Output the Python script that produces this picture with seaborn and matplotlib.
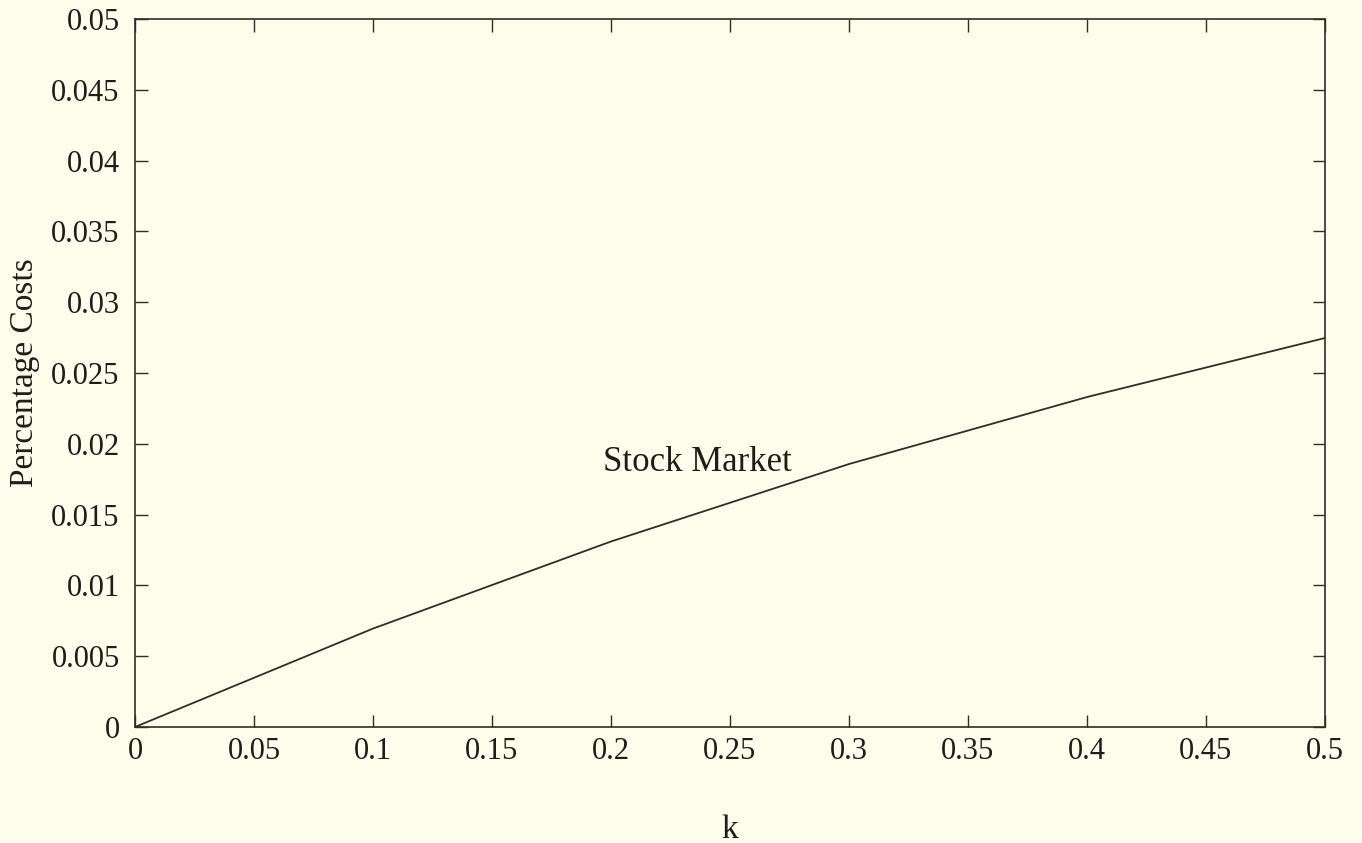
import matplotlib
matplotlib.use("Agg")
import matplotlib.pyplot as plt
import seaborn as sns
import pandas as pd

# Percentage trading costs as a function of k
k_values = [0.0, 0.1, 0.2, 0.3, 0.4, 0.5]
cost_values = [0.0, 0.00695, 0.0131, 0.01857, 0.0233, 0.02747]
series_label = "Stock Market"
x_ticks = [0, 0.05, 0.1, 0.15, 0.2, 0.25, 0.3, 0.35, 0.4, 0.45, 0.5]
x_tick_labels = ["0", "0.05", "0.1", "0.15", "0.2", "0.25", "0.3", "0.35", "0.4", "0.45", "0.5"]
y_ticks = [0, 0.005, 0.01, 0.015, 0.02, 0.025, 0.03, 0.035, 0.04, 0.045, 0.05]
y_tick_labels = ["0", "0.005", "0.01", "0.015", "0.02", "0.025", "0.03", "0.035", "0.04", "0.045", "0.05"]

sns.set_style("ticks")
plt.rcParams["font.family"] = ["Liberation Serif", "DejaVu Serif"]

bg = "#fdfdeb"
ink = "#2e2e26"
text_ink = "#1e1e18"

df = pd.DataFrame({"k": k_values, "cost": cost_values})

fig = plt.figure(figsize=(13.62, 8.43), dpi=100, facecolor=bg)
ax = fig.add_axes([0.0991, 0.1376, 0.8737, 0.8399])
ax.set_facecolor(bg)

sns.lineplot(data=df, x="k", y="cost", ax=ax, color=ink, linewidth=1.3)

ax.set_xlim(0, 0.5)
ax.set_ylim(0, 0.05)
ax.set_xticks(x_ticks)
ax.set_xticklabels(x_tick_labels)
ax.set_yticks(y_ticks)
ax.set_yticklabels(y_tick_labels)

ax.tick_params(axis="both", direction="in", length=9, width=1.0, color=ink,
               labelsize=22, labelcolor=text_ink, top=True, right=True)
ax.tick_params(axis="x", pad=7)
ax.tick_params(axis="y", pad=11)
for side in ["left", "right", "top", "bottom"]:
    ax.spines[side].set_visible(True)
    ax.spines[side].set_color(ink)
    ax.spines[side].set_linewidth(1.2)

ax.set_xlabel("k", fontsize=24, color=text_ink, labelpad=35)
ax.set_ylabel("Percentage Costs", fontsize=24, color=text_ink, labelpad=8)

ax.text(0.1966, 0.0181, series_label, fontsize=25, color=text_ink,
        ha="left", va="baseline")

fig.savefig("out.png", dpi=100, facecolor=bg)
